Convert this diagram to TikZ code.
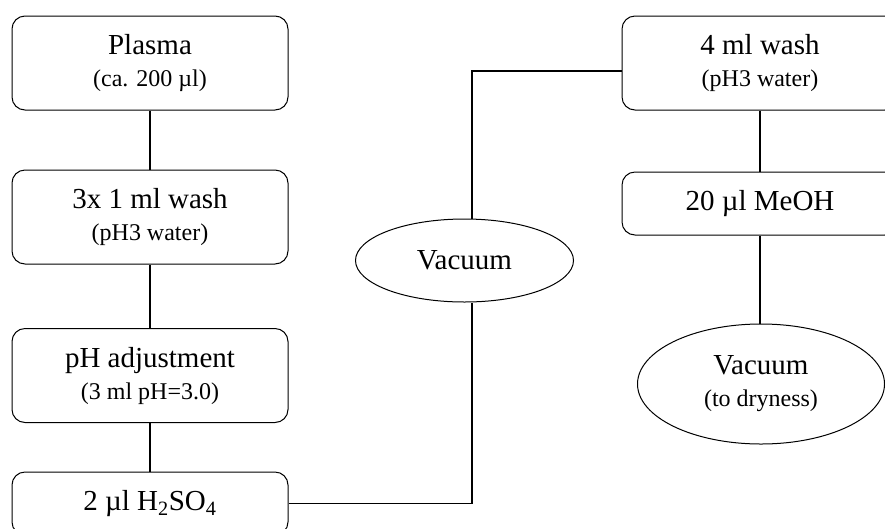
\documentclass[tikz,border=0pt]{standalone}
\usepackage{fontspec}
\setmainfont{Liberation Serif}
\usetikzlibrary{shapes.geometric}
\newcommand\smalltxt[1]{{\fontsize{24}{32}\selectfont #1}}
\begin{document}
\begin{tikzpicture}[x=1pt,y=-1pt,
  stepbox/.style={draw, line width=1pt, rounded corners=13pt, minimum width=276pt,
    minimum height=94pt, inner sep=0pt, align=center, font=\fontsize{29}{32}\selectfont},
  onebox/.style={stepbox, minimum height=63pt},
  oval/.style={draw, ellipse, line width=1pt, inner sep=0pt, align=center,
    font=\fontsize{29}{32}\selectfont},
  conn/.style={line width=1.8pt}]
\useasboundingbox (0,0) rectangle (885,528);
\node[stepbox] (plasma) at (150,63) {Plasma\\\smalltxt{(ca. 200 µl)}};
\node[stepbox] (wash3) at (150,217) {3x 1 ml wash\\\smalltxt{(pH3 water)}};
\node[stepbox] (phadj) at (150,375.5) {pH adjustment\\\smalltxt{(3 ml pH=3.0)}};
\node[onebox] (h2so4) at (150,503.5) {2 µl H\textsubscript{2}SO\textsubscript{4}};
\node[oval, minimum width=218pt, minimum height=83pt] (vac1) at (464.5,260.5) {Vacuum};
\node[stepbox] (wash4) at (760,63) {4 ml wash\\\smalltxt{(pH3 water)}};
\node[onebox] (meoh) at (760,203.5) {20 µl MeOH};
\node[oval, minimum width=247pt, minimum height=120pt] (vac2) at (761,384) {Vacuum\\\smalltxt{(to dryness)}};
\coordinate (jx) at (472,0);
\draw[conn] (plasma.south) -- (wash3.north);
\draw[conn] (wash3.south) -- (phadj.north);
\draw[conn] (phadj.south) -- (h2so4.north);
\draw[conn] (h2so4.east) -| (vac1.south -| jx);
\draw[conn] ([yshift=-8pt]wash4.west) -| (vac1.north -| jx);
\draw[conn] (wash4.south) -- (meoh.north);
\draw[conn] (meoh.south) -- (meoh.south |- vac2.north);
\end{tikzpicture}
\end{document}
